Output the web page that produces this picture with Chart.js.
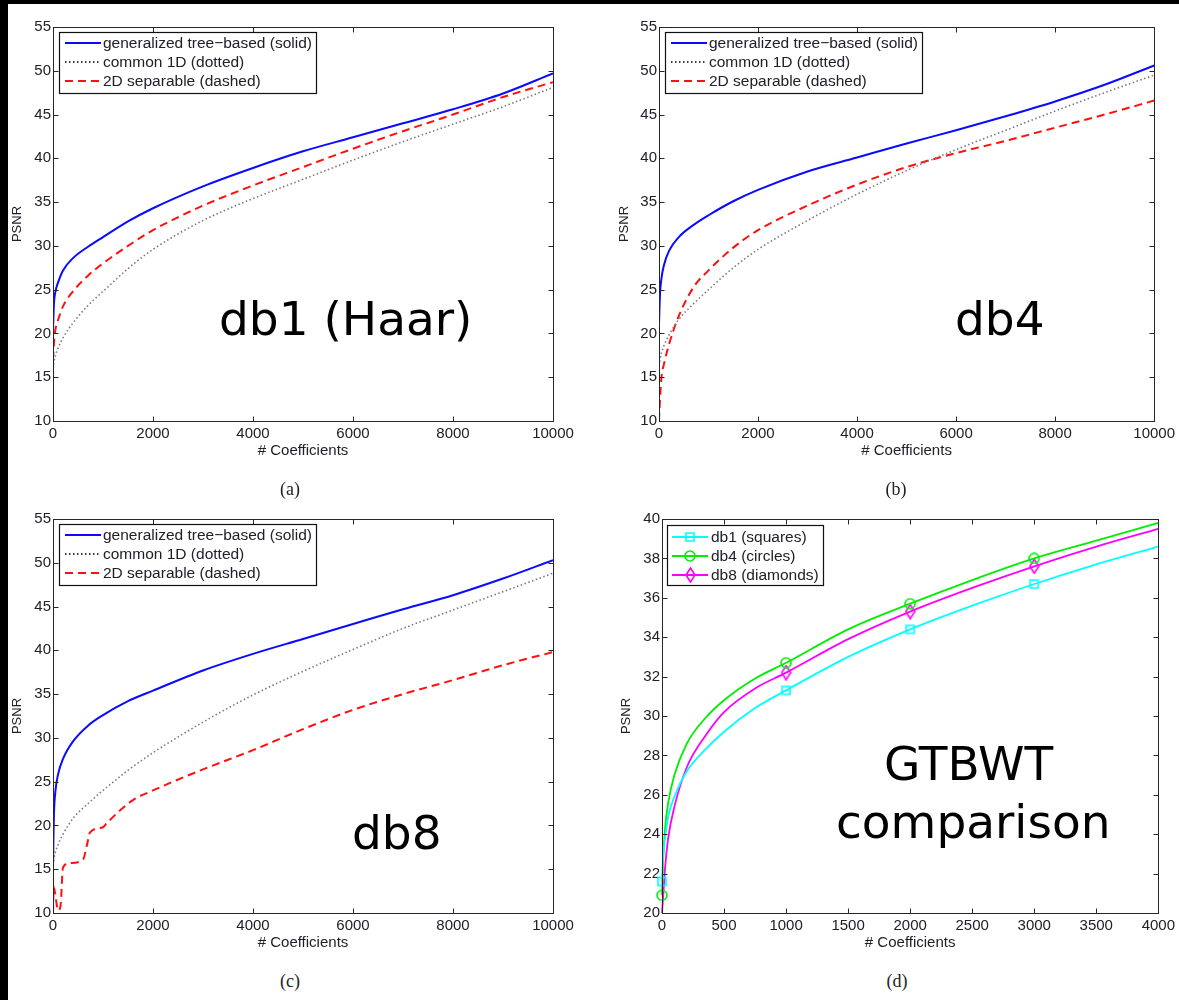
<!DOCTYPE html>
<html>
<head>
<meta charset="utf-8">
<script src="https://cdn.jsdelivr.net/npm/chart.js@4.4.1/dist/chart.umd.min.js"></script>
<style>
  html, body { margin: 0; padding: 0; background: #fff; }
  body { width: 1179px; height: 1000px; position: relative; overflow: hidden; }
  .bar { position: absolute; background: #000; }
  canvas { position: absolute; }
  .big { position: absolute; font-family: "DejaVu Sans", sans-serif; font-size: 47px; line-height: 46px; color: #000; white-space: nowrap; }
  .cap { position: absolute; font-family: "Liberation Serif", serif; font-size: 18px; line-height: 20px; width: 100px; text-align: center; color: #222; }
</style>
</head>
<body>
<div class="bar" style="left:0;top:0;width:1179px;height:4px"></div>
<div class="bar" style="left:0;top:0;width:8px;height:1000px"></div>

<canvas id="chartA"></canvas>
<canvas id="chartB"></canvas>
<canvas id="chartC"></canvas>
<canvas id="chartD"></canvas>

<div class="big" style="left:219px;top:296px">db1 (Haar)</div>
<div class="big" style="left:955px;top:296px">db4</div>
<div class="big" style="left:352px;top:810px">db8</div>
<div class="big" style="left:884px;top:741px">GTBWT</div>
<div class="big" style="left:836px;top:799px">comparison</div>

<div class="cap" style="left:240px;top:479px">(a)</div>
<div class="cap" style="left:846px;top:479px">(b)</div>
<div class="cap" style="left:240px;top:971px">(c)</div>
<div class="cap" style="left:847px;top:971px">(d)</div>

<script>
// ---------- data: PSNR vs number of retained coefficients ----------
const labelTree = 'generalized tree\u2212based (solid)';
const labelOne  = 'common 1D (dotted)';
const labelSep  = '2D separable (dashed)';

// (a) db1 (Haar)
const coeffA   = [0, 20, 50, 100, 200, 400, 700, 1000, 1500, 2000, 3000, 4000, 5000, 6000, 7000, 8000, 9000, 10000];
const haarTree = [20.5, 23.5, 24.8, 25.8, 27.2, 28.6, 29.9, 31.0, 32.8, 34.3, 36.8, 38.9, 40.8, 42.4, 44.0, 45.6, 47.4, 49.7];
const haarOne  = [16.0, 16.8, 17.5, 18.3, 19.5, 21.2, 23.2, 24.8, 27.4, 29.6, 32.9, 35.4, 37.6, 39.8, 41.9, 43.9, 45.9, 48.1];
const haarSep  = [17.0, 19.0, 20.5, 21.5, 23.1, 24.8, 26.6, 28.0, 30.0, 31.8, 34.6, 36.9, 39.0, 41.1, 43.1, 45.0, 47.0, 48.7];

// (b) db4
const coeffB   = [0, 20, 50, 100, 200, 400, 700, 1000, 1500, 2000, 3000, 4000, 5000, 6000, 7000, 8000, 9000, 10000];
const db4Tree  = [21.0, 24.5, 26.3, 27.8, 29.4, 31.0, 32.4, 33.5, 35.1, 36.4, 38.5, 40.1, 41.7, 43.2, 44.8, 46.5, 48.4, 50.6];
const db4One   = [16.3, 17.0, 17.8, 18.6, 19.8, 21.6, 23.4, 25.0, 27.5, 29.6, 32.9, 35.9, 38.6, 41.0, 43.2, 45.4, 47.5, 49.5];
const db4Sep   = [10.0, 12.5, 15.0, 16.5, 18.7, 22.0, 25.3, 27.2, 29.8, 31.8, 34.6, 37.0, 39.0, 40.6, 42.0, 43.5, 45.0, 46.6];

// (c) db8
const coeffC   = [0, 10, 20, 50, 100, 200, 400, 700, 1000, 1500, 2000, 3000, 4000, 5000, 6000, 7000, 8000, 9000, 10000];
const db8Tree  = [15.0, 19.0, 21.5, 24.0, 25.8, 27.6, 29.6, 31.4, 32.6, 34.2, 35.4, 37.7, 39.6, 41.3, 43.0, 44.7, 46.3, 48.2, 50.3];
const db8One   = [15.5, 15.9, 16.3, 17.0, 17.8, 19.0, 20.8, 22.5, 24.0, 26.3, 28.3, 31.8, 34.9, 37.6, 40.1, 42.5, 44.6, 46.7, 48.8];
const coeffC2  = [0, 15, 60, 100, 150, 200, 340, 600, 680, 740, 1000, 1080, 1600, 2000, 3000, 4000, 5000, 6000, 7000, 8000, 9000, 10000];
const db8Sep   = [10.0, 13.0, 11.5, 10.3, 10.8, 15.2, 15.7, 16.1, 17.8, 19.2, 19.8, 20.3, 22.9, 24.0, 26.4, 28.6, 31.0, 33.2, 35.0, 36.6, 38.3, 39.8];

// (d) GTBWT comparison of wavelets
const coeffD   = [0, 10, 25, 50, 100, 200, 350, 500, 750, 1000, 1500, 2000, 2500, 3000, 3500, 4000];
const gtDb1    = [21.6, 23.0, 23.8, 24.9, 25.9, 27.2, 28.3, 29.2, 30.4, 31.3, 33.0, 34.4, 35.6, 36.7, 37.7, 38.6];
const gtDb4    = [20.9, 22.8, 24.3, 25.6, 27.0, 28.6, 29.9, 30.8, 31.9, 32.7, 34.4, 35.7, 36.9, 38.0, 38.9, 39.8];
const gtDb8    = [20.0, 20.9, 22.3, 23.8, 25.4, 27.4, 29.0, 30.2, 31.4, 32.2, 33.9, 35.3, 36.5, 37.6, 38.6, 39.5];
const markDb1  = [0, 1000, 2000, 3000];
const markDb4  = [0, 1000, 2000, 3000];
const markDb8  = [1000, 2000, 3000];

// ---------- styling ----------
const SANS = '"Liberation Sans", Arial, sans-serif';
const TEXT = '#202028';

function pts(xs, ys) { return xs.map((x, i) => ({ x: x, y: ys[i] })); }

function markerImage(kind, color) {
  const c = document.createElement('canvas');
  const w = kind === 'diamond' ? 11 : 12, h = kind === 'diamond' ? 16 : 12;
  c.width = w; c.height = h;
  const g = c.getContext('2d');
  g.strokeStyle = color; g.lineWidth = 1.6;
  g.beginPath();
  if (kind === 'square') g.rect(2, 2, 8, 8);
  else if (kind === 'circle') g.arc(6, 6, 5, 0, Math.PI * 2);
  else { g.moveTo(5.5, 1); g.lineTo(10, 8); g.lineTo(5.5, 15); g.lineTo(1, 8); g.closePath(); }
  g.stroke();
  return c;
}

// Box frame with inward ticks on all four sides, plus a boxed legend inside the plot
const frameAndLegend = {
  id: 'frameAndLegend',
  afterDatasetsDraw(chart, args, opts) {
    const { ctx, chartArea: a, scales } = chart;
    ctx.save();
    ctx.strokeStyle = '#262626';
    ctx.lineWidth = 1;
    const L = Math.round(a.left) + 0.5, T = Math.round(a.top) + 0.5;
    const R = Math.round(a.right) + 0.5, B = Math.round(a.bottom) + 0.5;
    ctx.strokeRect(L, T, R - L, B - T);
    const tk = 5;
    ctx.beginPath();
    scales.x.ticks.forEach(t => {
      const px = Math.round(scales.x.getPixelForValue(t.value)) + 0.5;
      ctx.moveTo(px, B); ctx.lineTo(px, B - tk);
      ctx.moveTo(px, T); ctx.lineTo(px, T + tk);
    });
    scales.y.ticks.forEach(t => {
      const py = Math.round(scales.y.getPixelForValue(t.value)) + 0.5;
      ctx.moveTo(L, py); ctx.lineTo(L + tk, py);
      ctx.moveTo(R, py); ctx.lineTo(R - tk, py);
    });
    ctx.stroke();

    // legend
    const left = Math.round(a.left) + opts.dx, top = Math.round(a.top) + opts.dy;
    ctx.font = '15.5px ' + SANS;
    const items = chart.data.datasets;
    const maxW = Math.max(...items.map(d => ctx.measureText(d.label).width));
    const w = Math.round(opts.textX + maxW + 4), h = opts.h;
    ctx.fillStyle = '#fff';
    ctx.fillRect(left, top, w, h);
    ctx.strokeStyle = '#111';
    ctx.lineWidth = 1.2;
    ctx.strokeRect(left + 0.5, top + 0.5, w, h);
    items.forEach((d, i) => {
      const y = top + opts.row0 + i * opts.rowH;
      ctx.save();
      ctx.strokeStyle = d.legendColor || d.borderColor;
      ctx.lineWidth = d.borderWidth;
      ctx.setLineDash(d.borderDash || []);
      ctx.beginPath();
      ctx.moveTo(left + opts.s0, y); ctx.lineTo(left + opts.s1, y);
      ctx.stroke();
      ctx.restore();
      if (d.legendMarker) {
        const img = d.legendMarker;
        ctx.drawImage(img, Math.round(left + (opts.s0 + opts.s1) / 2 - img.width / 2), Math.round(y - img.height / 2));
      }
      ctx.fillStyle = TEXT;
      ctx.textBaseline = 'middle';
      ctx.textAlign = 'left';
      ctx.fillText(d.label, left + opts.textX, y + 1);
    });
    ctx.restore();
  }
};

function makePanel(id, box, spec) {
  const cv = document.getElementById(id);
  cv.style.left = box.left + 'px';
  cv.style.top = box.top + 'px';
  cv.width = box.width; cv.height = box.height;
  return new Chart(cv, {
    type: 'line',
    data: { datasets: spec.datasets },
    options: {
      responsive: false,
      animation: false,
      devicePixelRatio: 1,
      layout: { autoPadding: false, padding: { left: 0, top: box.padTop, right: box.padRight, bottom: 0 } },
      elements: { point: { radius: 0, hoverRadius: 0 }, line: { cubicInterpolationMode: 'monotone' } },
      plugins: {
        legend: { display: false },
        tooltip: { enabled: false },
        frameAndLegend: spec.legend
      },
      scales: {
        x: {
          type: 'linear', min: 0, max: spec.xMax,
          grid: { display: false, drawTicks: false }, border: { display: false },
          ticks: { stepSize: spec.xStep, autoSkip: false, maxRotation: 0, padding: 4, color: TEXT,
                   font: { family: SANS, size: 15 }, callback: v => String(v) },
          title: { display: true, text: '# Coefficients', color: TEXT, font: { family: SANS, size: 15 },
                   padding: { top: 0, bottom: 10 } },
          afterFit(s) { s.height = box.xHeight; }
        },
        y: {
          type: 'linear', min: spec.yMin, max: spec.yMax,
          grid: { display: false, drawTicks: false }, border: { display: false },
          ticks: { stepSize: spec.yStep, autoSkip: false, padding: 2, color: TEXT,
                   font: { family: SANS, size: 15 }, callback: v => String(v) },
          title: { display: true, text: 'PSNR', color: TEXT, font: { family: SANS, size: 13 },
                   padding: { top: box.yTitlePad, bottom: 0 } },
          afterFit(s) { s.width = box.yWidth; }
        }
      }
    },
    plugins: [frameAndLegend]
  });
}

function threeSeries(xs, tree, one, sep, xsSep) {
  return [
    { label: labelTree, data: pts(xs, tree), borderColor: '#0a0aff', borderWidth: 2 },
    { label: labelOne, data: pts(xs, one), borderColor: '#7a7a7a', legendColor: '#000', borderWidth: 1.6, borderDash: [1.5, 2.5] },
    { label: labelSep, data: pts(xsSep || xs, sep), borderColor: '#ff1010', borderWidth: 2, borderDash: [8, 5] }
  ];
}

const legendABC = { dx: 6, dy: 5, h: 61, row0: 11, rowH: 19, s0: 6, s1: 42, textX: 44 };

makePanel('chartA',
  { left: 0, top: 0, width: 580, height: 470, padTop: 27, padRight: 27, yWidth: 53, xHeight: 49, yTitlePad: 10 },
  { xMax: 10000, xStep: 2000, yMin: 10, yMax: 55, yStep: 5,
    datasets: threeSeries(coeffA, haarTree, haarOne, haarSep), legend: legendABC });

makePanel('chartB',
  { left: 600, top: 0, width: 579, height: 470, padTop: 27, padRight: 21, yWidth: 59, xHeight: 49, yTitlePad: 17 },
  { xMax: 10000, xStep: 2000, yMin: 10, yMax: 55, yStep: 5,
    datasets: threeSeries(coeffB, db4Tree, db4One, db4Sep), legend: legendABC });

makePanel('chartC',
  { left: 0, top: 492, width: 580, height: 470, padTop: 27, padRight: 27, yWidth: 53, xHeight: 49, yTitlePad: 10 },
  { xMax: 10000, xStep: 2000, yMin: 10, yMax: 55, yStep: 5,
    datasets: threeSeries(coeffC, db8Tree, db8One, db8Sep, coeffC2), legend: legendABC });

function markedSeries(label, xs, ys, marks, color, kind) {
  const img = markerImage(kind, color);
  return {
    label: label, data: pts(xs, ys), borderColor: color, borderWidth: 1.8, clip: 8,
    pointStyle: img, legendMarker: img,
    pointRadius: c => (c.raw && marks.includes(c.raw.x)) ? 5 : 0
  };
}

makePanel('chartD',
  { left: 600, top: 492, width: 579, height: 470, padTop: 27, padRight: 18, yWidth: 62, xHeight: 49, yTitlePad: 19 },
  { xMax: 4000, xStep: 500, yMin: 20, yMax: 40, yStep: 2,
    datasets: [
      markedSeries('db1 (squares)', coeffD, gtDb1, markDb1, '#00ffff', 'square'),
      markedSeries('db4 (circles)', coeffD, gtDb4, markDb4, '#00ee00', 'circle'),
      markedSeries('db8 (diamonds)', coeffD, gtDb8, markDb8, '#ff00ff', 'diamond')
    ],
    legend: { dx: 5, dy: 6, h: 60, row0: 12, rowH: 19, s0: 5, s1: 41, textX: 44 } });
</script>
</body>
</html>
